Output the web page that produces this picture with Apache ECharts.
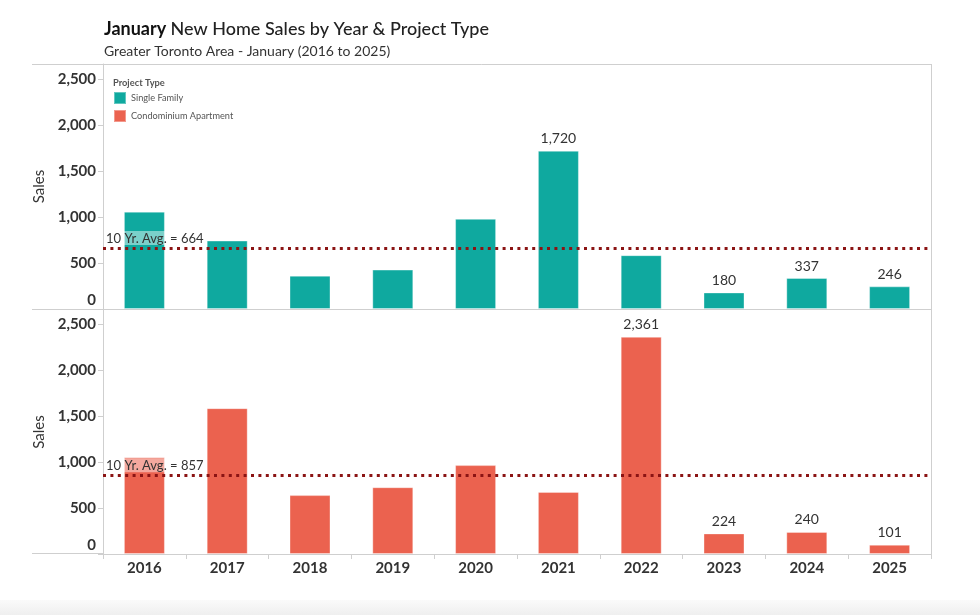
<!DOCTYPE html>
<html><head><meta charset="utf-8">
<script src="https://cdn.jsdelivr.net/npm/echarts@6/dist/echarts.min.js"></script>
<style>html,body{margin:0;padding:0;background:#fff}#c{width:980px;height:600px}#f{height:15px;background:linear-gradient(#fafafa,#efefef)}</style>
</head><body><div id="c"></div><div id="f"></div><script>
const years = ['2016','2017','2018','2019','2020','2021','2022','2023','2024','2025'];
const singleFamily = [1058, 744, 362, 428, 980, 1720, 585, 180, 337, 246];
const condo = [1052, 1585, 640, 726, 966, 675, 2361, 224, 240, 101];
const singleFamilyAvg = 664;
const condoAvg = 857;
const singleFamilyLabeled = ['2021','2023','2024','2025'];
const condoLabeled = ['2022','2023','2024','2025'];
const yTickInterval = 500;

const fmt = v => Number(v).toLocaleString('en-US');
const chart = echarts.init(document.getElementById('c'));
const FONT = 'Lato, "Open Sans", sans-serif';
const TEAL = '#0fa99f', RED = '#eb624f';

function barData(vals, labeled) {
  return vals.map((v, i) => ({ value: v, label: { show: labeled.includes(years[i]) } }));
}
function yAxisCfg(gi, max) {
  return {
    gridIndex: gi, type: 'value', min: 0, max: max, interval: yTickInterval,
    name: 'Sales', nameLocation: 'middle', nameGap: 44,
    nameTextStyle: { fontFamily: FONT, fontSize: 15, color: '#333' },
    axisLine: { show: true, lineStyle: { color: '#cfcfcf' } },
    axisTick: { show: true, length: 5, lineStyle: { color: '#cfcfcf' } },
    splitLine: { show: false },
    axisLabel: {
      showMaxLabel: false, margin: 7,
      fontFamily: FONT, fontSize: 15, fontWeight: 'bold', color: '#333',
      formatter: v => v === 0 ? '{z|0}' : fmt(v),
      rich: { z: { fontFamily: FONT, fontSize: 15, fontWeight: 'bold', color: '#333', padding: [0, 0, 18, 0] } }
    }
  };
}
function avgLine(v) {
  return {
    silent: true, symbol: 'none',
    lineStyle: { color: '#8b1414', width: 3, type: [3, 4.4], cap: 'butt' },
    label: {
      position: 'insideStartTop', distance: [2, 3],
      formatter: '10 Yr. Avg. = ' + fmt(v),
      fontFamily: FONT, fontSize: 13, color: '#333',
      backgroundColor: 'rgba(255,255,255,0.45)', padding: [1, 1, 0, 1]
    },
    data: [{ yAxis: v }]
  };
}
const barLabel = { position: 'top', distance: 5, fontFamily: FONT, fontSize: 14, color: '#333',
  formatter: p => fmt(p.value) };

chart.setOption({
  animation: false,
  textStyle: { fontFamily: FONT },
  title: [
    { text: '{b|January} {n|New Home Sales by Year & Project Type}', left: 99, top: 15,
      textStyle: { rich: {
        b: { fontFamily: FONT, fontSize: 18, fontWeight: 'bold', color: '#111' },
        n: { fontFamily: FONT, fontSize: 18, fontWeight: 500, color: '#222' } } } },
    { text: 'Greater Toronto Area - January (2016 to 2025)', left: 99, top: 39,
      textStyle: { fontFamily: FONT, fontSize: 14, fontWeight: 'normal', color: '#333' } }
  ],
  legend: {
    orient: 'vertical', left: 113, top: 91, padding: 0, itemWidth: 12, itemHeight: 12, itemGap: 4,
    icon: 'rect', textStyle: { fontFamily: FONT, fontSize: 9.2, color: '#555', lineHeight: 12, padding: [0, 0, 0, 0] },
    data: ['Single Family', 'Condominium Apartment'], selectedMode: false
  },
  graphic: [
    { type: 'text', left: 113, top: 78, style: { text: 'Project Type', fontFamily: FONT, fontSize: 9.3, fontWeight: 'bold', fill: '#555' } },
    { type: 'line', shape: { x1: 32, y1: 64.5, x2: 931.5, y2: 64.5 }, style: { stroke: '#cfcfcf', lineWidth: 1 } },
    { type: 'line', shape: { x1: 32, y1: 309.5, x2: 103, y2: 309.5 }, style: { stroke: '#cfcfcf', lineWidth: 1 } },
    { type: 'line', shape: { x1: 32, y1: 553.5, x2: 103, y2: 553.5 }, style: { stroke: '#cfcfcf', lineWidth: 1 } },
    { type: 'line', shape: { x1: 931.5, y1: 64, x2: 931.5, y2: 554 }, style: { stroke: '#cfcfcf', lineWidth: 1 } }
  ],
  grid: [
    { left: 103, top: 64, width: 828, height: 245 },
    { left: 103, top: 310, width: 828, height: 244 }
  ],
  xAxis: [
    { gridIndex: 0, type: 'category', data: years,
      axisLine: { show: true, lineStyle: { color: '#cfcfcf' } }, axisTick: { show: false }, axisLabel: { show: false } },
    { gridIndex: 1, type: 'category', data: years,
      axisLine: { show: true, lineStyle: { color: '#cfcfcf' } },
      axisTick: { show: true, length: 5, lineStyle: { color: '#cfcfcf' } },
      axisLabel: { fontFamily: FONT, fontSize: 15, fontWeight: 'bold', color: '#333', margin: 7 } }
  ],
  yAxis: [ yAxisCfg(0, 2663), yAxisCfg(1, 2652) ],
  series: [
    { name: 'Single Family', type: 'bar', xAxisIndex: 0, yAxisIndex: 0, barWidth: 41,
      itemStyle: { color: TEAL, borderColor: 'rgba(255,255,255,0.35)', borderWidth: 1 },
      label: barLabel, data: barData(singleFamily, singleFamilyLabeled), markLine: avgLine(singleFamilyAvg) },
    { name: 'Condominium Apartment', type: 'bar', xAxisIndex: 1, yAxisIndex: 1, barWidth: 41,
      itemStyle: { color: RED, borderColor: 'rgba(255,255,255,0.35)', borderWidth: 1 },
      label: barLabel, data: barData(condo, condoLabeled), markLine: avgLine(condoAvg) }
  ]
});
</script></body></html>
